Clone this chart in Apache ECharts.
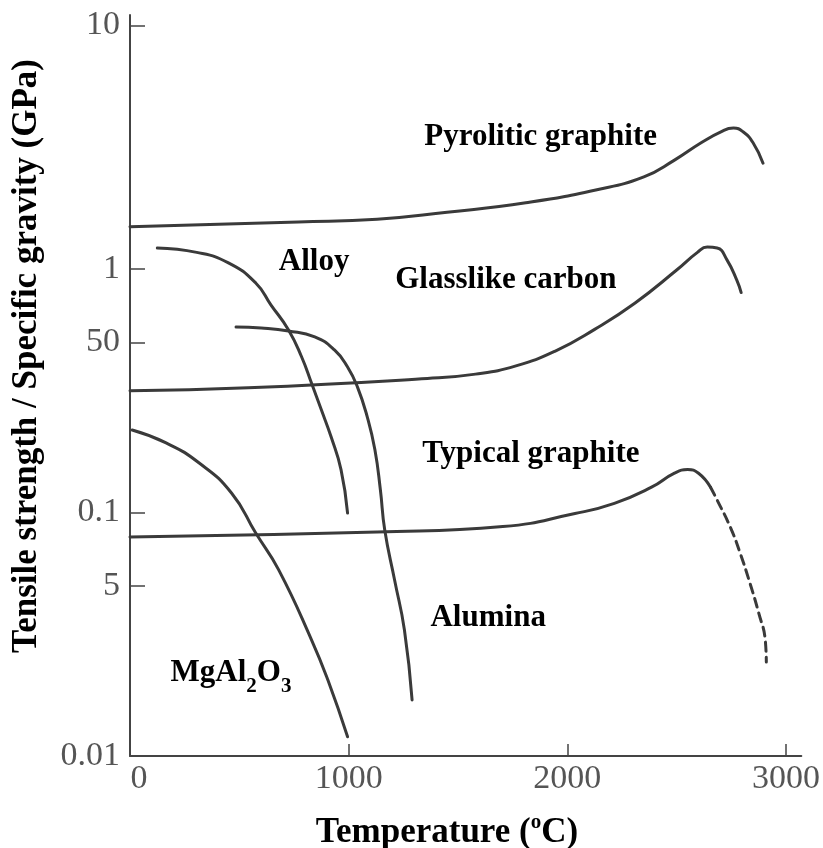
<!DOCTYPE html>
<html>
<head>
<meta charset="utf-8">
<script src="https://cdn.jsdelivr.net/npm/echarts@6/dist/echarts.min.js"></script>
<style>
  html, body { margin: 0; padding: 0; background: #fff; }
  #chart { width: 823px; height: 848px; }
</style>
</head>
<body>
<div id="chart"></div>
<script>
// Specific strength (GPa) versus temperature (°C) for high-temperature materials

const pyroliticTemp = [0, 770, 1130, 1450, 1810, 2130, 2350, 2490, 2610, 2700, 2760, 2805, 2850, 2895];
const pyroliticStrength = [1.49, 1.56, 1.60, 1.71, 1.87, 2.11, 2.39, 2.80, 3.29, 3.65, 3.79, 3.65, 3.29, 2.72];

const glassTemp = [0, 540, 1360, 1580, 1765, 1945, 2125, 2310, 2500, 2595, 2640, 2685, 2730, 2775, 2795];
const glassStrength = [0.316, 0.325, 0.355, 0.370, 0.40, 0.46, 0.565, 0.725, 0.99, 1.17, 1.23, 1.22, 1.09, 0.90, 0.80];

const typicalTemp = [0, 1130, 1705, 2035, 2215, 2385, 2490, 2550, 2600, 2655];
const typicalStrength = [0.0793, 0.0832, 0.0875, 0.0990, 0.109, 0.127, 0.145, 0.150, 0.145, 0.127];
// uncertain high-temperature branch (dashed)
const typicalHotTemp = [2655, 2685, 2745, 2790, 2835, 2875, 2905, 2910];
const typicalHotStrength = [0.127, 0.1125, 0.0872, 0.0682, 0.0513, 0.0387, 0.030, 0.0243];

const alloyTemp = [125, 305, 450, 575, 645, 725, 785, 830, 875, 920, 965, 995];
const alloyStrength = [1.22, 1.17, 1.06, 0.876, 0.711, 0.562, 0.435, 0.340, 0.264, 0.204, 0.150, 0.0995];

const aluminaTemp = [485, 600, 725, 845, 935, 995, 1040, 1085, 1120, 1145, 1165, 1210, 1255, 1290];
const aluminaStrength = [0.578, 0.572, 0.556, 0.526, 0.465, 0.396, 0.328, 0.247, 0.181, 0.124, 0.0847, 0.0528, 0.0329, 0.0170];

const spinelTemp = [10, 165, 315, 465, 575, 680, 830, 905, 995];
const spinelStrength = [0.218, 0.193, 0.160, 0.120, 0.0823, 0.0581, 0.030, 0.0205, 0.0120];

// axis ticks
const xTicks = [0, 1000, 2000, 3000];
const yTickValues = [0.01, 0.05, 0.1, 0.5, 1, 10];
const yTickLabels = ['0.01', '5', '0.1', '50', '1', '10'];

// curve names and where they are written (temperature, strength)
const curveNames = ['Pyrolitic graphite', 'Alloy', 'Glasslike carbon', 'Typical graphite', 'Alumina', 'MgAl2O3'];
const nameTemp = [1878, 842, 1719, 1833, 1638, 462];
const nameStrength = [3.48, 1.07, 0.90, 0.174, 0.0369, 0.0219];

const zip = (xs, ys) => xs.map((x, i) => [x, ys[i]]);

const LINE = '#3a3a3a';
const SERIF = '"Liberation Serif", "Times New Roman", serif';

function curve(name, xs, ys, dashed) {
  return {
    name: name,
    type: 'line',
    data: zip(xs, ys),
    smooth: 0.5,
    showSymbol: false,
    symbol: 'none',
    silent: true,
    lineStyle: { color: LINE, width: 3, type: dashed ? [9, 6] : 'solid', cap: 'round' },
    z: 3
  };
}

// chemical formulae get their digits set as subscripts
function richName(n) {
  if (n === 'MgAl2O3') return '{a|MgAl}{s|2}{a|O}{s|3}';
  return '{a|' + n + '}';
}

const chart = echarts.init(document.getElementById('chart'), null, { renderer: 'canvas' });

const option = {
  animation: false,
  backgroundColor: '#fff',
  grid: { left: 130, right: 15, top: 15, bottom: 92, containLabel: false },
  xAxis: {
    type: 'value',
    min: 0,
    max: 3070,
    interval: 1000,
    axisLine: { show: true, onZero: false, lineStyle: { color: '#444', width: 2 } },
    axisTick: { show: true, inside: true, length: 12, customValues: xTicks, lineStyle: { color: '#444', width: 1.5 } },
    axisLabel: {
      customValues: xTicks,
      fontFamily: SERIF,
      fontSize: 34,
      color: '#555',
      margin: 6,
      formatter: v => (v === 0 ? '{z|0}' : String(v)),
      rich: { z: { fontFamily: SERIF, fontSize: 34, color: '#555', padding: [0, 0, 0, 18] } }
    },
    splitLine: { show: false }
  },
  yAxis: {
    type: 'log',
    logBase: 10,
    min: 0.01,
    max: 11.04,
    axisLine: { show: true, onZero: false, lineStyle: { color: '#444', width: 2 } },
    axisTick: { show: true, inside: true, length: 15, customValues: yTickValues, lineStyle: { color: '#444', width: 1.5 } },
    minorTick: { show: false },
    axisLabel: {
      customValues: yTickValues,
      fontFamily: SERIF,
      fontSize: 34,
      color: '#555',
      margin: 10,
      formatter: v => {
        let best = 0;
        yTickValues.forEach((t, i) => {
          if (Math.abs(Math.log10(t) - Math.log10(v)) < Math.abs(Math.log10(yTickValues[best]) - Math.log10(v))) best = i;
        });
        return yTickLabels[best];
      }
    },
    splitLine: { show: false }
  },
  graphic: [
    {
      type: 'text',
      x: 27,
      y: 356,
      rotation: Math.PI / 2,
      style: {
        text: 'Tensile strength / Specific gravity (GPa)',
        font: 'bold 35px ' + SERIF,
        fill: '#000',
        align: 'center',
        verticalAlign: 'middle'
      }
    },
    {
      type: 'text',
      x: 447,
      y: 830,
      style: {
        text: '{t|Temperature (}{s|o}{t|C)}',
        rich: {
          t: { font: 'bold 35px ' + SERIF, fill: '#000', lineHeight: 40, verticalAlign: 'bottom' },
          s: { font: 'bold 21px ' + SERIF, fill: '#000', lineHeight: 40, verticalAlign: 'top', padding: [2, 0, 0, 0] }
        },
        align: 'center',
        verticalAlign: 'middle'
      }
    }
  ],
  series: [
    curve('Pyrolitic graphite', pyroliticTemp, pyroliticStrength, false),
    curve('Glasslike carbon', glassTemp, glassStrength, false),
    curve('Typical graphite', typicalTemp, typicalStrength, false),
    curve('Typical graphite (hot)', typicalHotTemp, typicalHotStrength, true),
    curve('Alloy', alloyTemp, alloyStrength, false),
    curve('Alumina', aluminaTemp, aluminaStrength, false),
    curve('MgAl2O3', spinelTemp, spinelStrength, false),
    {
      name: 'names',
      type: 'scatter',
      silent: true,
      symbolSize: 0,
      itemStyle: { color: '#000', opacity: 1 },
      z: 5,
      data: curveNames.map((n, i) => ({
        value: [nameTemp[i], nameStrength[i]],
        label: { formatter: richName(n) }
      })),
      label: {
        show: true,
        position: 'inside',
        color: '#000',
        opacity: 1,
        textBorderWidth: 0,
        rich: {
          a: { fontFamily: SERIF, fontWeight: 'bold', fontSize: 31, color: '#000' },
          s: { fontFamily: SERIF, fontWeight: 'bold', fontSize: 21, color: '#000', padding: [26, 0, 0, 0] }
        }
      }
    }
  ]
};

chart.setOption(option);
</script>
</body>
</html>
